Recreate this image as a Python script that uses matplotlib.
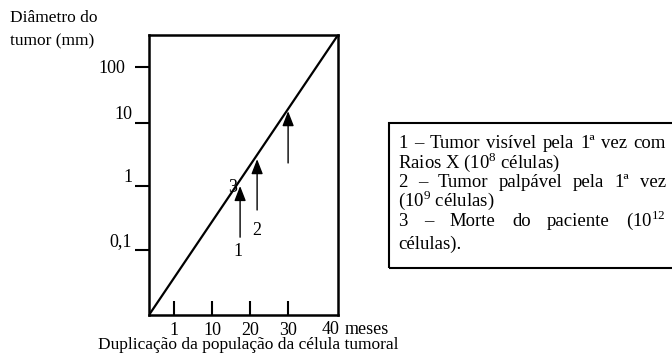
import matplotlib
matplotlib.use('Agg')
import matplotlib.pyplot as plt
from matplotlib.patches import Rectangle
from matplotlib.transforms import ScaledTranslation

plt.rcParams['font.family'] = ['Liberation Serif', 'DejaVu Serif']
plt.rcParams['mathtext.fontset'] = 'custom'
plt.rcParams['mathtext.rm'] = 'Liberation Serif'

# schematic axes: x in "position" units, y in decades
x_tick_pos = [0.66, 1.67, 2.67, 3.68]
x_tick_labels = ['1', '10', '20', '30']
y_tick_pos = [-1.0, 0.0, 0.984, 1.86]
y_tick_labels = ['0,1', '1', '10', '100']

growth_x = [0.0, 5.0]
growth_y = [-2.016, 2.36]

# arrows: x, tail y, tip y, label, label x, label y
arrow_x = [2.41, 2.86, 3.68]
arrow_tail = [-0.80, -0.375, 0.36]
arrow_tip = [0.0, 0.42, 1.17]
marker_labels = ['1', '2', '3']
marker_lx = [2.35, 2.86, 2.20]
marker_ly = [-1.03, -0.69, -0.02]

note_lines = ['1 – Tumor visível pela 1ª vez com',
              'Raios X (10$^{8}$ células)',
              '2 – Tumor palpável pela 1ª vez',
              '(10$^{9}$ células)',
              '3 – Morte do paciente (10$^{12}$',
              'células).']
note_justify = [True, False, True, False, True, False]

W, H = 672, 355
fig = plt.figure(figsize=(W / 100, H / 100), dpi=100)


def fx(x):
    return x / W


def fy(y):
    return 1 - y / H


ax = fig.add_axes([fx(149), fy(315), (338 - 149) / W, (315 - 35) / H])
ax.set_xlim(0, 5)
ax.set_ylim(-2.016, 2.36)
for s in ax.spines.values():
    s.set_linewidth(1.8)

ax.plot(growth_x, growth_y, color='black', lw=1.6, solid_capstyle='butt')

ax.set_xticks(x_tick_pos)
ax.set_xticklabels(x_tick_labels, fontsize=13)
ax.tick_params(axis='x', direction='in', length=10, width=1.5, pad=5)
ax.set_yticks(y_tick_pos)
ax.set_yticklabels(y_tick_labels, fontsize=13)
ax.tick_params(axis='y', direction='out', length=10, width=1.5, pad=2)
for lbl in ax.get_yticklabels():
    if lbl.get_text() == '100':
        lbl.set_transform(lbl.get_transform() +
                          ScaledTranslation(-5 / 72, 0, fig.dpi_scale_trans))
    else:
        lbl.set_verticalalignment('bottom')

for x, t0, t1 in zip(arrow_x, arrow_tail, arrow_tip):
    ax.annotate('', xy=(x, t1), xytext=(x, t0),
                arrowprops=dict(arrowstyle='-|>,head_length=0.9,head_width=0.35',
                                color='black', lw=1.0, shrinkA=0, shrinkB=0))
for lab, x, y in zip(marker_labels, marker_lx, marker_ly):
    ax.text(x, y, lab, fontsize=13, ha='center', va='center')

fig.text(fx(331), fy(329), '40', fontsize=13, ha='center', va='center')
fig.text(fx(345), fy(329), 'meses', fontsize=13, ha='left', va='center')
fig.text(fx(248), fy(345), 'Duplicação da população da célula tumoral',
         fontsize=12.5, ha='center', va='center')
fig.text(fx(10), fy(18), 'Diâmetro do', fontsize=12.5, ha='left', va='center')
fig.text(fx(10), fy(41), 'tumor (mm)', fontsize=12.5, ha='left', va='center')

# note box
fig.patches.append(Rectangle((fx(389), fy(268)), (680 - 389) / W, (268 - 123) / H,
                             transform=fig.transFigure, fill=False,
                             lw=1.5, edgecolor='black'))

baselines = [148, 168, 187, 206, 226, 249]
left, right = 398, 666
renderer = fig.canvas.get_renderer()
for line, just, yb in zip(note_lines, note_justify, baselines):
    if not just:
        fig.text(fx(left), fy(yb), line, fontsize=13.5, ha='left', va='baseline')
        continue
    words = line.split(' ')
    texts = [fig.text(0, fy(yb), w, fontsize=13.5, ha='left', va='baseline')
             for w in words]
    widths = [t.get_window_extent(renderer).width for t in texts]
    gap = (right - left - sum(widths)) / (len(words) - 1)
    xpos = left
    for t, w in zip(texts, widths):
        t.set_x(fx(xpos))
        xpos += w + gap

fig.savefig('out.png', dpi=100)
